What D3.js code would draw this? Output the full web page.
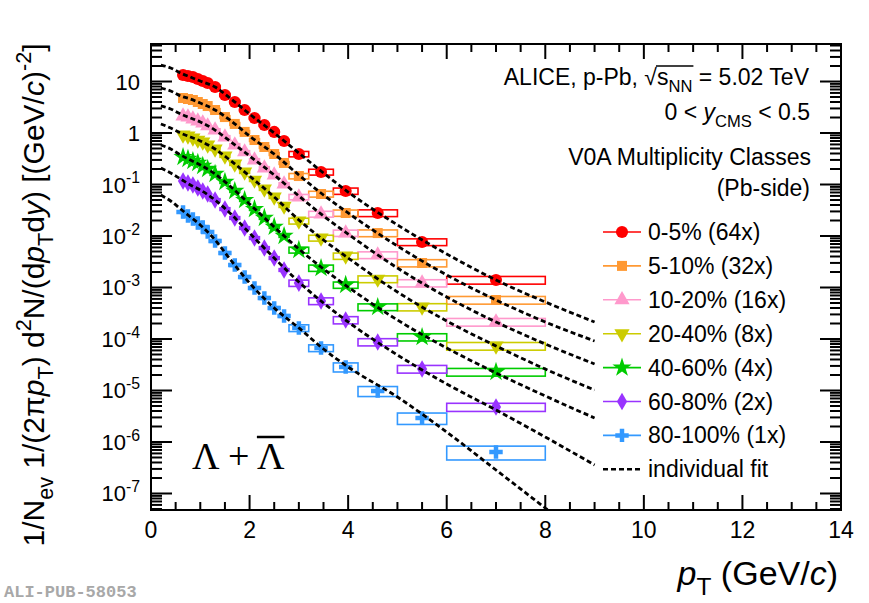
<!DOCTYPE html>
<html>
<head>
<meta charset="utf-8">
<script src="https://cdn.jsdelivr.net/npm/d3@7"></script>
<style>
  body { margin: 0; background: #fff; }
  svg { font-family: "Liberation Sans", Arial, Helvetica, sans-serif; }
</style>
</head>
<body>
<svg id="chart" width="869" height="603"></svg>
<script>
// ---- data -------------------------------------------------------------
// pT bin edges and centres (GeV/c)
const binEdges = [0.6, 0.7, 0.8, 0.9, 1.0, 1.1, 1.2, 1.4, 1.6, 1.8, 2.0, 2.2, 2.4, 2.6, 2.8, 3.2, 3.7, 4.2, 5.0, 6.0, 8.0];
const ptCentres = [0.65, 0.75, 0.85, 0.95, 1.05, 1.15, 1.3, 1.5, 1.7, 1.9, 2.1, 2.3, 2.5, 2.7, 3.0, 3.45, 3.95, 4.6, 5.5, 7.0];

const classLabels = ["0-5% (64x)", "5-10% (32x)", "10-20% (16x)", "20-40% (8x)", "40-60% (4x)", "60-80% (2x)", "80-100% (1x)"];

// scaled invariant yields per multiplicity class
const yield0to5 = [13.4, 12.8, 12.2, 11.2, 10.2, 9.35, 7.82, 5.47, 4.00, 2.80, 1.96, 1.43, 1.05, 0.699, 0.391, 0.175, 0.0748, 0.0280, 0.00765, 0.00140];
const yield5to10 = [4.78, 4.57, 4.37, 4.00, 3.66, 3.34, 2.80, 2.04, 1.50, 1.05, 0.731, 0.535, 0.391, 0.262, 0.146, 0.0654, 0.0280, 0.0114, 0.00299, 0.000572];
const yield10to20 = [2.14, 2.04, 1.87, 1.71, 1.56, 1.37, 1.14, 0.836, 0.585, 0.428, 0.299, 0.209, 0.153, 0.102, 0.0572, 0.0267, 0.0114, 0.00428, 0.00122, 0.000214];
const yield20to40 = [0.915, 0.875, 0.800, 0.731, 0.669, 0.585, 0.489, 0.358, 0.250, 0.175, 0.122, 0.0818, 0.0572, 0.0382, 0.0196, 0.00915, 0.00409, 0.00146, 0.000418, 0.0000731];
const yield40to60 = [0.342, 0.313, 0.286, 0.262, 0.229, 0.200, 0.160, 0.112, 0.0748, 0.0500, 0.0334, 0.0224, 0.0150, 0.0100, 0.00535, 0.00239, 0.00112, 0.000418, 0.000109, 0.0000229];
const yield60to80 = [0.117, 0.107, 0.0978, 0.0855, 0.0748, 0.0654, 0.0500, 0.0334, 0.0224, 0.0143, 0.00915, 0.00585, 0.00374, 0.00219, 0.00122, 0.000547, 0.000234, 0.0000874, 0.0000262, 0.00000478];
const yield80to100 = [0.0292, 0.0244, 0.0214, 0.0179, 0.0150, 0.0120, 0.00800, 0.00468, 0.00273, 0.00160, 0.000978, 0.000625, 0.000400, 0.000280, 0.000164, 0.0000669, 0.0000286, 0.00000978, 0.00000292, 0.000000639];

// relative systematic uncertainty of the six highest-pT bins; lower bins share sysLowPt
const sysLowPt = 0.06;
const sysHigh0to5 = [0.12, 0.13, 0.14, 0.15, 0.15, 0.17];
const sysHigh5to10 = [0.12, 0.13, 0.14, 0.15, 0.16, 0.17];
const sysHigh10to20 = [0.12, 0.13, 0.14, 0.15, 0.16, 0.17];
const sysHigh20to40 = [0.13, 0.13, 0.14, 0.15, 0.16, 0.17];
const sysHigh40to60 = [0.13, 0.14, 0.14, 0.15, 0.16, 0.17];
const sysHigh60to80 = [0.14, 0.15, 0.16, 0.16, 0.17, 0.18];
const sysHigh80to100 = [0.15, 0.15, 0.20, 0.22, 0.25, 0.30];

// individual fits, sampled in pT
const fitPt = [0.2, 0.4, 0.6, 0.8, 1.0, 1.3, 1.6, 2.0, 2.5, 3.0, 3.5, 4.0, 5.0, 6.0, 7.0, 8.0, 9.0];
const fit0to5 = [20.9, 18.3, 14.6, 12.2, 10.2, 7.82, 4.78, 2.34, 1.00, 0.409, 0.167, 0.0715, 0.0164, 0.00447, 0.00140, 0.000523, 0.000214];
const fit5to10 = [7.48, 6.54, 5.23, 4.57, 3.82, 2.80, 1.79, 0.874, 0.391, 0.153, 0.0625, 0.0280, 0.00639, 0.00175, 0.000572, 0.000214, 0.0000914];
const fit10to20 = [3.35, 2.93, 2.34, 1.96, 1.64, 1.14, 0.699, 0.358, 0.153, 0.0598, 0.0245, 0.0109, 0.00239, 0.000654, 0.000214, 0.0000799, 0.0000327];
const fit20to40 = [1.50, 1.25, 1.00, 0.836, 0.699, 0.489, 0.299, 0.146, 0.0572, 0.0205, 0.00836, 0.00374, 0.000818, 0.000224, 0.0000731, 0.0000261, 0.0000102];
const fit40to60 = [0.585, 0.489, 0.374, 0.299, 0.239, 0.160, 0.0935, 0.0418, 0.0150, 0.00559, 0.00229, 0.00102, 0.000234, 0.0000668, 0.0000219, 0.00000782, 0.00000293];
const fit60to80 = [0.209, 0.167, 0.128, 0.0978, 0.0782, 0.0500, 0.0280, 0.0114, 0.00374, 0.00128, 0.000500, 0.000214, 0.0000489, 0.0000134, 0.00000418, 0.00000125, 0.000000358];
const fit80to100 = [0.0625, 0.0478, 0.0335, 0.0234, 0.0164, 0.00836, 0.00358, 0.00122, 0.000400, 0.000164, 0.0000639, 0.0000286, 0.00000748, 0.00000156, 0.000000286, 0.0000000523, 0.00000000956];

// axis tick values
const xMajorTicks = [0, 2, 4, 6, 8, 10, 12, 14];
const yDecades = [-7, -6, -5, -4, -3, -2, -1, 0, 1];

const colours = ["#ff0000", "#ff9933", "#ff99cc", "#cccc00", "#00cc00", "#9933ff", "#3399ff"];

const series = [
  { label: classLabels[0], y: yield0to5, sys: sysHigh0to5, fit: fit0to5 },
  { label: classLabels[1], y: yield5to10, sys: sysHigh5to10, fit: fit5to10 },
  { label: classLabels[2], y: yield10to20, sys: sysHigh10to20, fit: fit10to20 },
  { label: classLabels[3], y: yield20to40, sys: sysHigh20to40, fit: fit20to40 },
  { label: classLabels[4], y: yield40to60, sys: sysHigh40to60, fit: fit40to60 },
  { label: classLabels[5], y: yield60to80, sys: sysHigh60to80, fit: fit60to80 },
  { label: classLabels[6], y: yield80to100, sys: sysHigh80to100, fit: fit80to100 }
];

// ---- layout -----------------------------------------------------------
const L = 151, R = 841, T = 44, B = 510;
const svg = d3.select("#chart");

const x = d3.scaleLinear().domain([0, 14]).range([L, R]);
const y = d3.scaleLog().domain([4.78e-8, 53.5]).range([B, T]);

// rich text helper: parts with optional sub / sup / italic
function richText(sel, parts, size) {
  let shift = 0;
  parts.forEach(p => {
    const target = p.sub ? size * 0.3 : p.sup ? -size * 0.42 : 0;
    const ts = sel.append("tspan").attr("dy", target - shift).text(p.t);
    shift = target;
    if (p.sub || p.sup) ts.attr("font-size", size * 0.72);
    if (p.i) ts.attr("font-style", "italic");
  });
  return sel;
}

// marker shapes, one per class
const shapes = [
  { type: d3.symbolCircle, size: 115, rot: 0 },
  { type: d3.symbolSquare, size: 100, rot: 0 },
  { type: d3.symbolTriangle, size: 100, rot: 0 },
  { type: d3.symbolTriangle, size: 100, rot: 180 },
  { type: d3.symbolStar, size: 115, rot: 0 },
  { type: d3.symbolDiamond, size: 90, rot: 0 },
  { type: d3.symbolCross, size: 100, rot: 0 }
];

svg.append("clipPath").attr("id", "plotClip")
  .append("rect").attr("x", L).attr("y", T).attr("width", R - L).attr("height", B - T);

const plot = svg.append("g").attr("clip-path", "url(#plotClip)");

// systematic boxes
series.forEach((s, k) => {
  const g = plot.append("g");
  s.y.forEach((v, i) => {
    const rel = i >= s.y.length - 6 ? s.sys[i - (s.y.length - 6)] : sysLowPt;
    g.append("rect")
      .attr("x", x(binEdges[i]))
      .attr("width", x(binEdges[i + 1]) - x(binEdges[i]))
      .attr("y", y(v * (1 + rel)))
      .attr("height", y(v * (1 - rel)) - y(v * (1 + rel)))
      .attr("fill", "none")
      .attr("stroke", colours[k])
      .attr("stroke-width", 1.6);
  });
});

// markers
series.forEach((s, k) => {
  const sh = shapes[k];
  const sym = d3.symbol().type(sh.type).size(sh.size);
  plot.append("g").selectAll("path").data(s.y).join("path")
    .attr("d", sym)
    .attr("transform", (v, i) => `translate(${x(ptCentres[i])},${y(v)}) rotate(${sh.rot})`)
    .attr("fill", colours[k]);
});

// fits (drawn above the points)
const fitLine = d3.line()
  .x(d => x(d[0]))
  .y(d => y(d[1]))
  .curve(d3.curveMonotoneX);
series.forEach(s => {
  plot.append("path")
    .attr("d", fitLine(fitPt.map((p, i) => [p, s.fit[i]])))
    .attr("fill", "none")
    .attr("stroke", "#000")
    .attr("stroke-width", 2.8)
    .attr("stroke-dasharray", "5,3");
});

// ---- frame and ticks ---------------------------------------------------
const axes = svg.append("g").attr("stroke", "#000").attr("stroke-width", 2);
axes.append("rect").attr("x", L).attr("y", T).attr("width", R - L).attr("height", B - T).attr("fill", "none");

const xMinor = d3.range(0, 14.01, 0.5);
xMinor.forEach(v => {
  const len = xMajorTicks.includes(v) ? 15 : 8;
  axes.append("line").attr("x1", x(v)).attr("x2", x(v)).attr("y1", B).attr("y2", B - len);
  axes.append("line").attr("x1", x(v)).attr("x2", x(v)).attr("y1", T).attr("y2", T + len);
});

const yTicks = [];
for (let e = -8; e <= 1; e++) {
  for (let m = 1; m <= 9; m++) {
    const v = m * Math.pow(10, e);
    if (v >= y.domain()[0] && v <= y.domain()[1]) yTicks.push({ v, major: m === 1 });
  }
}
yTicks.forEach(t => {
  const len = t.major ? 21 : 11;
  axes.append("line").attr("x1", L).attr("x2", L + len).attr("y1", y(t.v)).attr("y2", y(t.v));
  axes.append("line").attr("x1", R).attr("x2", R - len).attr("y1", y(t.v)).attr("y2", y(t.v));
});

// tick labels
svg.append("g").selectAll("text").data(xMajorTicks).join("text")
  .attr("x", d => x(d)).attr("y", 538)
  .attr("text-anchor", "middle").attr("font-size", 23)
  .text(d => d);

const yl = svg.append("g");
yDecades.forEach(e => {
  const t = yl.append("text")
    .attr("x", 140).attr("y", y(Math.pow(10, e)) + 8)
    .attr("text-anchor", "end").attr("font-size", 22);
  if (e === 1) t.text("10");
  else if (e === 0) t.text("1");
  else richText(t, [{ t: "10" }, { t: String(e), sup: true }], 22);
});

// axis titles
richText(svg.append("text")
  .attr("x", 838).attr("y", 585)
  .attr("text-anchor", "end").attr("font-size", 34),
  [{ t: "p", i: true }, { t: "T", sub: true }, { t: " (GeV/" }, { t: "c", i: true }, { t: ")" }], 34);

richText(svg.append("text")
  .attr("transform", "translate(44,295) rotate(-90)")
  .attr("text-anchor", "middle").attr("font-size", 30),
  [{ t: "1/N" }, { t: "ev", sub: true }, { t: " 1/(2\u03c0" }, { t: "p", i: true }, { t: "T", sub: true },
   { t: ") d" }, { t: "2", sup: true }, { t: "N/(d" }, { t: "p", i: true }, { t: "T", sub: true },
   { t: "d" }, { t: "y", i: true }, { t: ") [(GeV/" }, { t: "c", i: true }, { t: ")" }, { t: "-2", sup: true }, { t: "]" }], 30);

// ---- annotations --------------------------------------------------------
const head = svg.append("text").attr("x", 809).attr("y", 85).attr("text-anchor", "end").attr("font-size", 23);
richText(head, [{ t: "ALICE, p-Pb, \u221a" }, { t: "s" }, { t: "NN", sub: true }, { t: " = 5.02 TeV" }], 23);
{
  const node = head.node();
  const full = node.textContent;
  const iS = full.indexOf("\u221a") + 1;
  const b = node.getExtentOfChar(iS + 2);
  const r = node.getExtentOfChar(iS - 1);
  svg.append("line").attr("x1", r.x + r.width - 1).attr("x2", b.x + b.width + 1)
    .attr("y1", r.y + 2).attr("y2", r.y + 2).attr("stroke", "#000").attr("stroke-width", 1.5);
}

richText(svg.append("text").attr("x", 810).attr("y", 120).attr("text-anchor", "end").attr("font-size", 23),
  [{ t: "0 < " }, { t: "y", i: true }, { t: "CMS", sub: true }, { t: " < 0.5" }], 23);
svg.append("text").attr("x", 811).attr("y", 165).attr("text-anchor", "end").attr("font-size", 23)
  .text("V0A Multiplicity Classes");
svg.append("text").attr("x", 810).attr("y", 196).attr("text-anchor", "end").attr("font-size", 23)
  .text("(Pb-side)");

// particle label
const lam = svg.append("text").attr("x", 192).attr("y", 469)
  .style("font-family", "'Liberation Serif', 'Times New Roman', serif").attr("font-size", 38)
  .text("\u039b + \u039b");
{
  const node = lam.node();
  const e = node.getExtentOfChar(node.textContent.length - 1);
  svg.append("line").attr("x1", e.x).attr("x2", e.x + e.width)
    .attr("y1", 437).attr("y2", 437).attr("stroke", "#000").attr("stroke-width", 2.5);
}

// ---- legend -------------------------------------------------------------
const legY0 = 232, legStep = 33.9;
series.forEach((s, k) => {
  const yy = legY0 + k * legStep;
  const g = svg.append("g");
  g.append("line").attr("x1", 603).attr("x2", 641).attr("y1", yy).attr("y2", yy)
    .attr("stroke", colours[k]).attr("stroke-width", 1.6);
  g.append("path").attr("d", d3.symbol().type(shapes[k].type).size(shapes[k].size))
    .attr("transform", `translate(622,${yy}) rotate(${shapes[k].rot})`).attr("fill", colours[k]);
  g.append("text").attr("x", 648).attr("y", yy + 8).attr("font-size", 23).text(s.label);
});
{
  const yy = legY0 + 7 * legStep;
  svg.append("line").attr("x1", 603).attr("x2", 641).attr("y1", yy).attr("y2", yy)
    .attr("stroke", "#000").attr("stroke-width", 2.4).attr("stroke-dasharray", "5,3");
  svg.append("text").attr("x", 648).attr("y", yy + 8).attr("font-size", 23).text("individual fit");
}

// figure id
svg.append("text").attr("x", 4).attr("y", 597)
  .style("font-family", "'Liberation Mono', 'Courier New', monospace").attr("font-weight", "bold")
  .attr("font-size", 17).attr("fill", "#a8a8a8").text("ALI-PUB-58053");
</script>
</body>
</html>
